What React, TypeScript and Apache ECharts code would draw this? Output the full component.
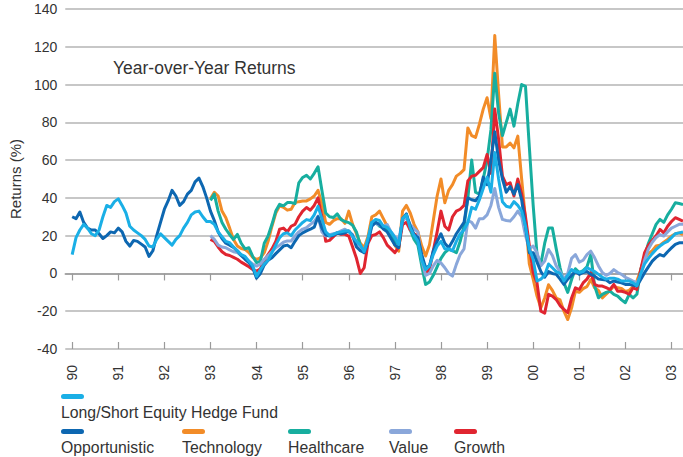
import React, { useEffect, useRef } from "react";
import * as echarts from "echarts";

// Month index 0 = Jan 1990
const yearLabels = ["90", "91", "92", "93", "94", "95", "96", "97", "98", "99", "00", "01", "02", "03"];
const yearTicks = yearLabels.map((_, i) => i * 12);

const seriesNames = ["Long/Short Equity Hedge Fund", "Opportunistic", "Technology", "Healthcare", "Value", "Growth"];
const seriesColors = ["#1AAFE6", "#0D67B1", "#F28C28", "#17AE9F", "#8AA7DA", "#E02530"];

const longShortStart = 0;
const longShort = [
  10, 19, 23, 26, 24, 21, 20, 23, 30, 36, 35, 38,
  39.5, 36, 32, 25, 23, 21.5, 20, 18, 14.5, 14, 18, 21,
  19, 17, 15, 18, 20, 24, 27, 31, 32.5, 33, 30, 27.5,
  27.5, 26, 22, 19.5, 17, 16.3, 14, 12, 10, 9, 6.5, 4,
  -1.5, 2, 5, 7, 11, 15, 19, 21, 21.5, 20, 23, 25,
  27, 28.5, 28, 31, 35.5, 29, 22, 20, 20.7, 21.6, 22, 22.5,
  22.5, 19.5, 17, 15, 11.5, 18.5, 27, 28.6, 28, 25, 24.5, 22,
  19, 15.3, 29, 31, 24, 20, 17, 7, 2, 4, 10, 14.5,
  17, 13, 13, 12, 17, 21, 23, 27, 35, 34, 39, 45,
  51, 43, 64, 50, 38, 35.6, 35, 38, 36, 33, 25, 13,
  7.4, -4, -3, -1, 5, 3, 1, 0, -4, -1, 2, 1,
  0.5, 1, 3, 2, 1, -0.5, -2, -3, -2.5, -2.5, -3, -4,
  -4, -4, -5, -6.5, 0, 5, 8, 10.5, 12.7, 14.5, 16, 17,
  19, 21, 21.5, 22,
];

const opportunisticStart = 0;
const opportunistic = [
  30, 29, 32.5, 27, 24, 23, 23, 21, 18.5, 20, 22, 21.5,
  24, 22, 17, 14.5, 17.5, 17, 15.5, 14, 9, 12, 20, 27,
  34, 38.5, 44, 41, 36, 38, 42, 44, 48.5, 50.5, 46, 40,
  33, 28, 22, 18.5, 16, 15, 13.8, 12, 9.5, 7.5, 5.7, 3,
  -2.5, 0, 4.5, 7, 8.3, 10.5, 12.5, 14.5, 15, 13.6, 17, 20,
  21.5, 22.5, 23.4, 24.5, 30, 24, 20.5, 19.8, 20.2, 21.3, 21, 21.5,
  22.5, 20, 14, 12, 11, 16.5, 25, 27, 26, 23.5, 22, 18.5,
  15, 13.6, 29, 31.5, 25, 20.5, 19, 10, 3, 4, 12, 17,
  21, 16, 13.6, 17, 21, 24, 27, 40, 39, 38.5, 41, 51,
  47, 60, 75, 60, 50, 43, 46, 42, 47, 39, 25, 11,
  11, 6, 1, -2, 1, 0, -0.5, -3, -5.8, -3, -1, 1,
  -0.5, 0.5, 1, -0.5, -1.4, -3, -3.2, -3.5, -4.9, -4, -4.5, -5,
  -5.8, -5.8, -6.2, -6.7, -3.2, 0.4, 3.5, 6.5, 8.5, 10, 9.2, 11.5,
  13.5, 15.4, 16.2, 16.2,
];

const technologyStart = 36;
const technology = [
  39.5, 43, 41, 33, 29.5, 24, 18, 14.5, 13.2, 12.7, 11, 8.5,
  7.4, 8.3, 11, 17, 25, 32, 35.8, 35, 33.5, 34, 37.5, 38,
  38.4, 38.4, 39.5, 41, 44, 37, 27, 26, 28, 29, 29, 26.5,
  33, 26, 21, 16, 13.6, 19.5, 30, 31, 33, 29, 25, 20,
  15, 11.8, 33, 36, 32, 26, 22, 14.5, 9.2, 15, 28, 41,
  50, 37.4, 44, 47, 51.5, 53, 55, 77, 73, 72, 79, 87,
  93, 82, 126, 95, 67, 67, 69, 66.5, 72.7, 50, 28.6, 5,
  -3, -12, -18.2, -13, -6, -9, -13, -14, -20, -24.4, -18.2, -9.4,
  -10, -8, -7, -3.2, -7.6, -9, -12.9, -11, -9, -6.7, -7.6, -8,
  -9.5, -9, -7, -4, 2, 8, 10.5, 12, 14.5, 15, 16.5, 18,
  19.8, 21, 21.5, 20.6,
];

const healthcareStart = 36;
const healthcare = [
  38.7, 42, 33, 27, 23.4, 20.5, 18, 20.7, 16, 13, 13.6, 9,
  5.7, 6.5, 16, 19.8, 26, 33, 36.6, 35.8, 37.5, 37.5, 37, 48,
  50.8, 52, 50, 53, 56.5, 44, 32, 30, 29.6, 31.5, 28.5, 27.5,
  26.9, 25.5, 22, 15, 11, 17, 27, 27, 25, 24, 23, 20,
  17, 15.3, 28, 31.2, 23, 18, 15, 3.9, -5.8, -4.5, -1, 3.5,
  8, 11, 12.7, 12, 11, 17, 25, 40, 60, 43, 42, 50,
  60, 76, 106, 85, 73, 80, 87, 78, 90, 100, 99, 67,
  36, 10, 5, 16, 24, 24, 13, 3, -5, -10, -3.2, 2.5,
  0.5, 1.5, 3.5, 10, -6.7, -12.9, -11.1, -10, -9.4, -11.1, -12, -14,
  -15.5, -11.1, -12.9, -11, 2, 9, 16, 21, 26, 28.6, 27, 31,
  34, 37.4, 37, 36.5,
];

const valueStart = 36;
const value = [
  20, 18, 15, 14, 13.6, 12.5, 11.5, 11, 9.5, 8, 6.5, 5,
  3.9, 5, 7.5, 9.5, 11.5, 13.6, 15, 16.5, 17.2, 17.2, 19.8, 22,
  23.5, 24.2, 26, 27.5, 30.4, 22, 19.8, 20.5, 21, 21.5, 22.5, 23.4,
  22, 20.6, 16, 13, 11.8, 17, 26, 26.5, 25.5, 25, 25.9, 22,
  19.5, 18, 28, 29.5, 26, 23.5, 22, 7, -1, 0, 4, 7,
  5.5, 3, 0, -1.4, 4.8, 10, 13, 28, 27, 24, 29, 29,
  31, 36, 45, 35, 28.6, 28, 27.7, 30, 33, 30, 20, 13,
  14.5, 11, 4, 6.5, 12.7, 9.5, 4, 1, -3, 0, 8, 10,
  6, 7, 10, 11.8, 8.3, 4, 0.5, -1, 0, 2, 0.5, -0.5,
  -2, -3, -4, -4.9, -1.4, 7, 13, 16.5, 19, 20.6, 19.8, 22,
  24, 25, 26, 26,
];

const growthStart = 36;
const growth = [
  18, 17, 14, 11.5, 10, 9.5, 8.5, 7.5, 6, 4.8, 3.5, 2,
  1.2, 2.5, 7, 10, 13, 17, 23.4, 24, 22, 25, 26, 30,
  33, 34.9, 33.5, 36, 40, 30, 17, 17.5, 19.5, 21.6, 20.7, 20.7,
  19.8, 14, 8, 0, 3, 16, 20, 20.6, 22, 19, 15, 13,
  11, 14, 26, 27, 23, 21, 19.8, 8, 0, 2, 12, 22,
  33, 25, 23, 30, 33, 34, 36, 49, 51.5, 52, 54, 56,
  63, 53, 87, 71, 51.5, 47, 48, 41, 50, 42, 30, 15,
  0.4, -5, -20, -21, -11, -12, -13.8, -17, -19, -20.8, -13, -7.6,
  -8.5, -5, -3, 0.4, -5.8, -6.7, -6.7, -7.5, -8.5, -5.8, -9.4, -9.4,
  -10, -11, -7.6, -8.5, 2, 11, 15, 17.5, 20, 23.3, 21.5, 25,
  27.5, 29.5, 28.6, 27.7,
];

const FONT = "'Liberation Sans', Arial, Helvetica, sans-serif";
const TEXT = "#333333";
const AXIS = "#9a9a9a";

const toPairs = (vals: number[], start: number) => vals.map((v, i) => [start + i, v]);

export default function App() {
  const ref = useRef<HTMLDivElement>(null);
  useEffect(() => {
    if (!ref.current) return;
    const chart = echarts.init(ref.current, undefined, { renderer: "svg" });
    const mk = (idx: number, vals: number[], start: number) => ({
      type: "line",
      name: seriesNames[idx],
      data: toPairs(vals, start),
      xAxisIndex: 0,
      showSymbol: false,
      symbol: "none",
      lineStyle: { color: seriesColors[idx], width: 3, join: "round" },
      itemStyle: { color: seriesColors[idx] },
      z: 2,
    });
    const legendRow1 = [{ idx: 0, x: 61 }];
    const legendRow2 = [
      { idx: 1, x: 61 },
      { idx: 2, x: 182 },
      { idx: 3, x: 288 },
      { idx: 4, x: 389 },
      { idx: 5, x: 454 },
    ];
    const legendEls: any[] = [];
    const addItem = (idx: number, x: number, swY: number, txtY: number) => {
      legendEls.push({
        type: "rect",
        shape: { x, y: swY, width: 23, height: 5, r: 2.5 },
        style: { fill: seriesColors[idx] },
      });
      legendEls.push({
        type: "text",
        x,
        y: txtY,
        style: {
          text: seriesNames[idx],
          fill: TEXT,
          font: `15.8px ${FONT}`,
          verticalAlign: "middle",
        },
      });
    };
    legendRow1.forEach((d) => addItem(d.idx, d.x, 394, 412));
    legendRow2.forEach((d) => addItem(d.idx, d.x, 429, 447));

    const xCommon = {
      type: "value",
      min: -1.8,
      max: 159,
      splitLine: { show: false },
    };

    chart.setOption({
      animation: false,
      backgroundColor: "#ffffff",
      textStyle: { fontFamily: FONT },
      grid: { left: 57, right: 0, top: 9, bottom: 108, containLabel: false },
      xAxis: [
        {
          ...xCommon,
          axisLine: { show: true, lineStyle: { color: AXIS, width: 1.5 } },
          axisTick: { show: true, customValues: yearTicks, length: 7, lineStyle: { color: AXIS, width: 1.2 } },
          axisLabel: {
            customValues: yearTicks,
            rotate: 90,
            fontSize: 14,
            color: TEXT,
            fontFamily: FONT,
            margin: 16,
            formatter: (v: number) => yearLabels[Math.round(v / 12)] ?? "",
          },
        },
        {
          ...xCommon,
          position: "bottom",
          axisLine: { show: false },
          axisTick: { show: true, inside: true, customValues: yearTicks, length: 7, lineStyle: { color: AXIS, width: 1.2 } },
          axisLabel: { show: false },
        },
      ],
      yAxis: {
        type: "value",
        min: -40,
        max: 140,
        interval: 20,
        name: "Returns (%)",
        nameLocation: "middle",
        nameGap: 41,
        nameTextStyle: { fontSize: 15, color: TEXT, fontFamily: FONT },
        axisLine: { show: false },
        axisTick: { show: false },
        axisLabel: { fontSize: 14, color: TEXT, fontFamily: FONT, margin: 8 },
        splitLine: { show: true, lineStyle: { color: "#b5b5b5", width: 1.5 } },
      },
      series: [
        mk(2, technology, technologyStart),
        mk(3, healthcare, healthcareStart),
        mk(5, growth, growthStart),
        mk(4, value, valueStart),
        mk(1, opportunistic, opportunisticStart),
        mk(0, longShort, longShortStart),
      ],
      graphic: [
        {
          type: "text",
          x: 113,
          y: 68,
          style: {
            text: "Year-over-Year Returns",
            fill: TEXT,
            font: `17.5px ${FONT}`,
            verticalAlign: "middle",
          },
        },
        ...legendEls,
      ],
    });
    return () => chart.dispose();
  }, []);
  return <div ref={ref} style={{ position: "fixed", left: 0, top: 0, width: 683, height: 457 }} />;
}
